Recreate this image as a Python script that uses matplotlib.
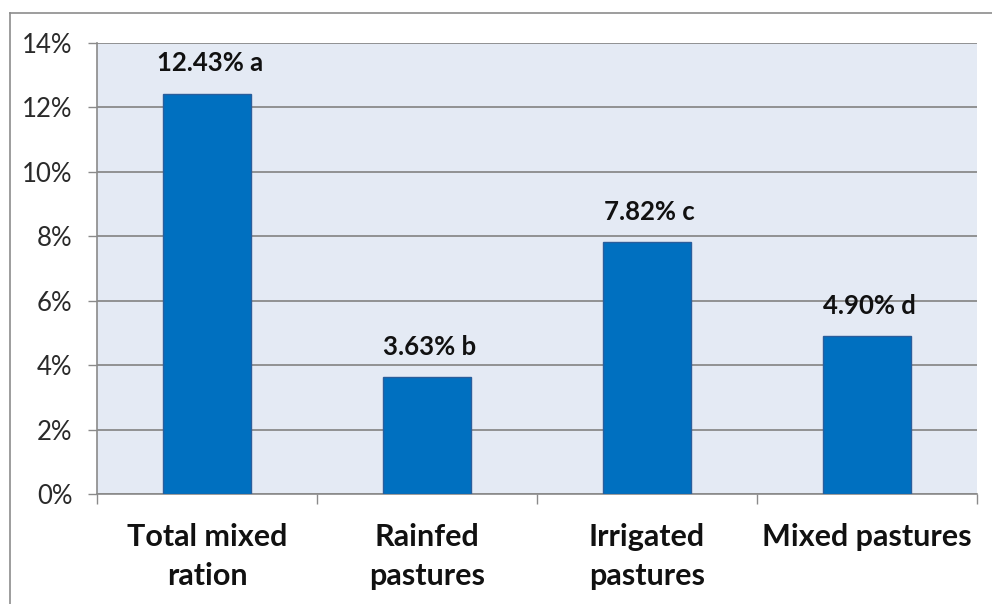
import matplotlib
matplotlib.use('Agg')
from matplotlib import pyplot as plt
from matplotlib.lines import Line2D

# data
categories = ['Total mixed\nration', 'Rainfed\npastures', 'Irrigated\npastures', 'Mixed pastures']
values = [12.43, 3.63, 7.82, 4.90]
letters = ['a', 'b', 'c', 'd']
yticks = [0, 2, 4, 6, 8, 10, 12, 14]

plt.rcParams['font.family'] = ['Lato', 'DejaVu Sans']

W, H = 992, 604
fig = plt.figure(figsize=(W / 100, H / 100), dpi=100)
ax = fig.add_axes([97 / W, 1 - 494 / H, 880 / W, 451 / H])
ax.set_facecolor('#E4EAF4')

x = range(len(categories))
ax.bar(x, values, width=0.4, color='#0070C0', edgecolor='#2A5E9C', linewidth=1, zorder=3)

for i, v in enumerate(values):
    ax.annotate('%.2f%% %s' % (v, letters[i]), (i, v), xytext=(2, 16), textcoords='offset points',
                ha='center', va='baseline', fontsize=18.5, fontweight='bold', color='#111111')

ax.set_xlim(-0.5, len(categories) - 0.5)
ax.set_ylim(0, 14)
ax.set_yticks(yticks)
ax.set_yticklabels(['%d%%' % t for t in yticks], fontsize=18.5, color='#2a2a2a')
ax.yaxis.grid(True, color='#8A8A8A', linewidth=1.3, zorder=0)
ax.tick_params(axis='y', length=6.5, width=1, color='#8A8A8A', pad=11)

ax.set_xticks(list(x))
ax.set_xticklabels(categories, fontsize=22, fontweight='bold', color='#111111', linespacing=1.45)
ax.set_xticks([i - 0.5 for i in range(len(categories) + 1)], minor=True)
ax.tick_params(axis='x', which='major', length=0, pad=21)
ax.tick_params(axis='x', which='minor', length=7.5, width=1, color='#8A8A8A')

for s in ['top', 'right']:
    ax.spines[s].set_visible(False)
for s in ['left', 'bottom']:
    ax.spines[s].set_color('#8A8A8A')
    ax.spines[s].set_linewidth(1.2)

# outer chart frame
fig.add_artist(Line2D([9.5 / W, 1], [1 - 13 / H, 1 - 13 / H], transform=fig.transFigure, color='#8C8C8C', lw=1.2))
fig.add_artist(Line2D([9.5 / W, 9.5 / W], [0, 1 - 13 / H], transform=fig.transFigure, color='#8C8C8C', lw=1.2))

fig.savefig('out.png', dpi=100)
